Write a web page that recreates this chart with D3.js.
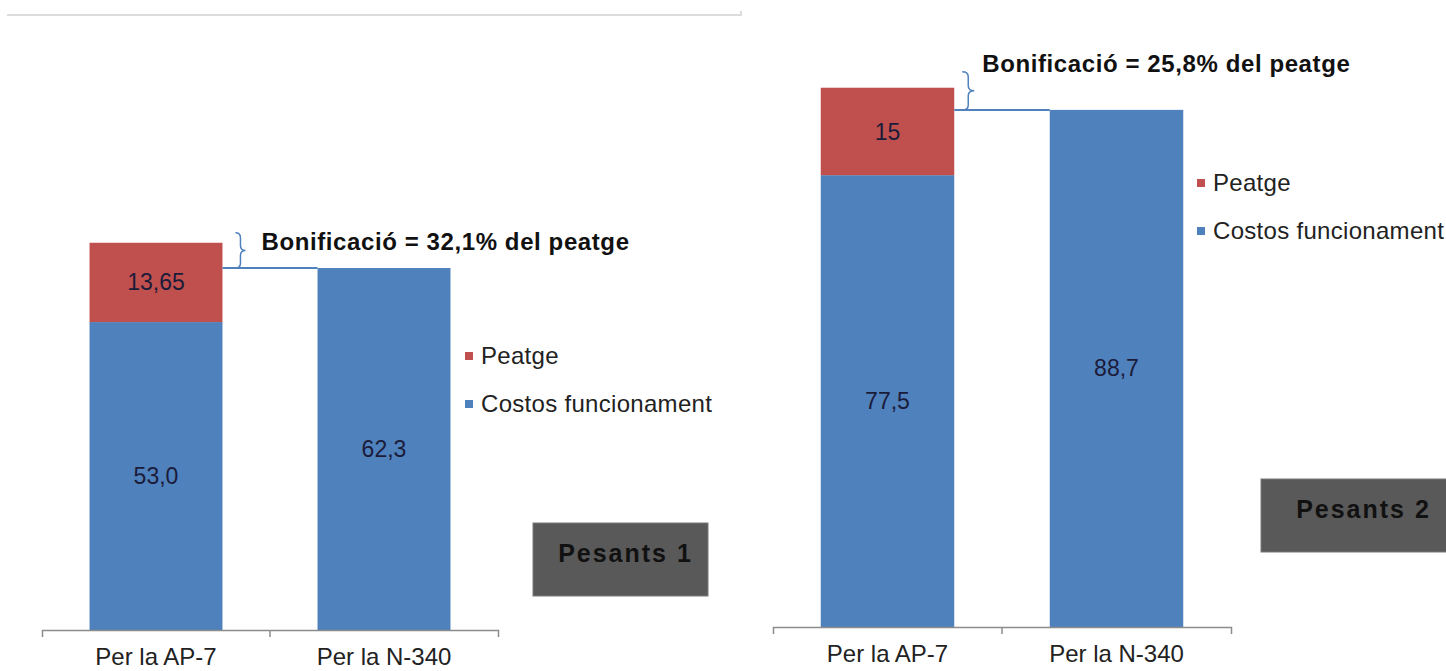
<!DOCTYPE html>
<meta charset="utf-8">
<style>
body { margin: 0; background: #fff; }
text { font-family: "Liberation Sans", Arial, sans-serif; }
.axis path, .axis line { stroke: #8c8c8c; stroke-width: 1.5px; }
.axis text { font-size: 24px; fill: #222; }
.val { font-size: 23px; fill: #1b1b3a; }
.legend text { font-size: 24px; fill: #222; letter-spacing: 0.3px; }
.bonus { font-size: 24px; font-weight: bold; fill: #111; letter-spacing: 0.6px; }
.tag { font-size: 25px; font-weight: bold; fill: #111; letter-spacing: 2px; }
</style>
<body>
<script src="https://d3js.org/d3.v7.min.js"></script>
<script>

// data
var categories = ["Per la AP-7", "Per la N-340"];
var seriesNames = ["Peatge", "Costos funcionament"];
var costs1 = [53.0, 62.3];
var toll1 = [13.65, 0];
var costs2 = [77.5, 88.7];
var toll2 = [15, 0];
var bonus = ["32,1%", "25,8%"];
var panelNames = ["Pesants 1", "Pesants 2"];

var blue = "#4f81bd", red = "#c0504d";

// layout of each of the two small charts
var layout = [
  {costs: costs1, toll: toll1, x0: 42, x1: 498, axisY: 630, k: 5.81, pad: 18,
   legend: [465, 356], box: [533, 523, 175, 73], braceW: 10, bonusDx: 26, bonusDy: 17},
  {costs: costs2, toll: toll2, x0: 773, x1: 1231, axisY: 627, k: 5.83, pad: 18,
   legend: [1197, 183], box: [1261, 479, 195, 73], braceW: 12, bonusDx: 20, bonusDy: 0}
];

var svg = d3.select("body").append("svg")
    .attr("width", 1446)
    .attr("height", 671);

// thin grey rule at top left
svg.append("path")
    .attr("d", "M7,15H741V11")
    .attr("fill", "none")
    .attr("stroke", "#dcdcdc")
    .attr("stroke-width", 2);

function commaFmt(v, dec) {
  var s = dec == null ? String(v) : v.toFixed(dec);
  return s.replace(".", ",");
}

layout.forEach(function(p, i) {
  var g = svg.append("g");

  var x = d3.scaleBand()
      .domain(categories)
      .range([p.x0, p.x1])
      .paddingInner(0.417)
      .paddingOuter(0.2085);

  var y = d3.scaleLinear()
      .domain([0, 100])
      .range([p.axisY, p.axisY - 100 * p.k]);

  var rows = categories.map(function(c, j) {
    return {cat: c, cost: p.costs[j], toll: p.toll[j]};
  });

  // cost bars
  g.selectAll(".cost").data(rows).enter().append("rect")
      .attr("x", function(d) { return x(d.cat); })
      .attr("width", x.bandwidth())
      .attr("y", function(d) { return y(d.cost); })
      .attr("height", function(d) { return y(0) - y(d.cost); })
      .attr("fill", blue);

  // toll bars stacked on top
  var tolls = rows.filter(function(d) { return d.toll > 0; });
  g.selectAll(".toll").data(tolls).enter().append("rect")
      .attr("x", function(d) { return x(d.cat); })
      .attr("width", x.bandwidth())
      .attr("y", function(d) { return y(d.cost + d.toll); })
      .attr("height", function(d) { return y(d.cost) - y(d.cost + d.toll); })
      .attr("fill", red);

  // value labels
  g.selectAll(".cv").data(rows).enter().append("text")
      .attr("class", "val")
      .attr("x", function(d) { return x(d.cat) + x.bandwidth() / 2; })
      .attr("y", function(d) { return (y(0) + y(d.cost)) / 2; })
      .attr("dy", "0.35em")
      .attr("text-anchor", "middle")
      .text(function(d) { return commaFmt(d.cost, 1); });

  g.selectAll(".tv").data(tolls).enter().append("text")
      .attr("class", "val")
      .attr("x", function(d) { return x(d.cat) + x.bandwidth() / 2; })
      .attr("y", function(d) { return (y(d.cost) + y(d.cost + d.toll)) / 2; })
      .attr("dy", "0.35em")
      .attr("text-anchor", "middle")
      .text(function(d) { return commaFmt(d.toll); });

  // x axis, ticks on the category boundaries
  var ax = g.append("g")
      .attr("class", "axis")
      .attr("transform", "translate(0," + p.axisY + ")")
      .call(d3.axisBottom(x).tickSize(0).tickSizeOuter(7).tickPadding(p.pad));
  var step = x.step();
  ax.append("line")
      .attr("x1", x(categories[1]) - step * x.paddingInner() / 2)
      .attr("x2", x(categories[1]) - step * x.paddingInner() / 2)
      .attr("y1", 0).attr("y2", 7);

  // connector line and brace showing the discount
  var a = rows[0], b = rows[1];
  var lineY = y(b.cost);
  var barRight = x(a.cat) + x.bandwidth();
  g.append("line")
      .attr("x1", barRight).attr("x2", x(b.cat))
      .attr("y1", lineY).attr("y2", lineY)
      .attr("stroke", blue).attr("stroke-width", 2);

  var top = y(a.cost + a.toll) - 10 - (i === 1 ? 6 : 0);
  var bx = barRight + 13 - (i === 1 ? 5 : 0);
  var w = p.braceW, r = 5, mid = (top + lineY) / 2;
  var h = w / 2;
  g.append("path")
      .attr("d", "M" + bx + "," + top +
        "Q" + (bx + h) + "," + top + " " + (bx + h) + "," + (top + r) +
        "V" + (mid - r) +
        "Q" + (bx + h) + "," + mid + " " + (bx + w) + "," + mid +
        "Q" + (bx + h) + "," + mid + " " + (bx + h) + "," + (mid + r) +
        "V" + (lineY - r) +
        "Q" + (bx + h) + "," + lineY + " " + bx + "," + lineY)
      .attr("fill", "none")
      .attr("stroke", blue)
      .attr("stroke-width", 1.5);

  g.append("text")
      .attr("class", "bonus")
      .attr("x", bx + p.bonusDx)
      .attr("y", top + p.bonusDy)
      .text("Bonificació = " + bonus[i] + " del peatge");

  // legend
  var lg = g.append("g").attr("class", "legend")
      .attr("transform", "translate(" + p.legend[0] + "," + p.legend[1] + ")");
  [red, blue].forEach(function(c, j) {
    lg.append("rect")
        .attr("x", 0).attr("y", j * 48 - 4)
        .attr("width", 8).attr("height", 8)
        .attr("fill", c);
    lg.append("text")
        .attr("x", 16).attr("y", j * 48)
        .attr("dy", "0.35em")
        .text(seriesNames[j]);
  });

  // grey tag box
  g.append("rect")
      .attr("x", p.box[0]).attr("y", p.box[1])
      .attr("width", p.box[2]).attr("height", p.box[3])
      .attr("fill", "#595959")
      .attr("stroke", "#7a7a7a");
  g.append("text")
      .attr("class", "tag")
      .attr("x", p.box[0] + p.box[2] / 2 + 5)
      .attr("y", p.box[1] + 30)
      .attr("dy", "0.35em")
      .attr("text-anchor", "middle")
      .text(panelNames[i]);
});

</script>
</body>
